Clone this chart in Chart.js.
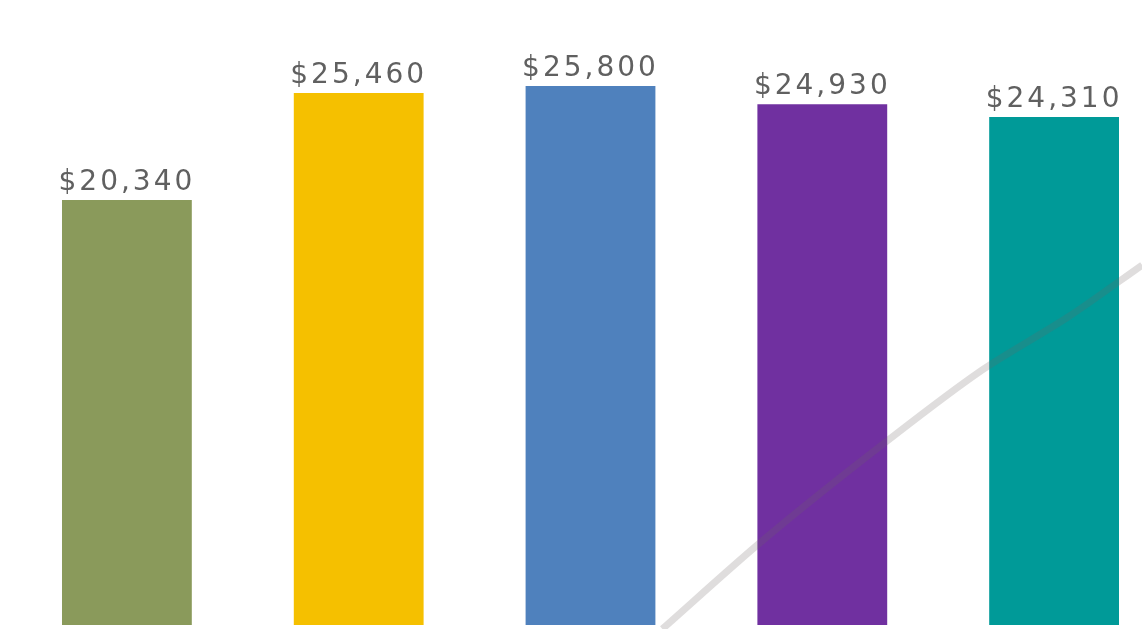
<!DOCTYPE html>
<html>
	<head>
		<meta charset="utf-8">
		<style>
			html, body { margin: 0; padding: 0; background: #fff; overflow: hidden; }
			#wrap { width: 1180px; height: 629px; }
		</style>
	</head>
	<body>
		<div id="wrap"><canvas id="myChart"></canvas></div>
		<script src="https://cdn.jsdelivr.net/npm/chart.js@4/dist/chart.umd.min.js"></script>
		<script>
			// bar values
			const categories = ['A', 'B', 'C', 'D', 'E'];
			const values = [20340, 25460, 25800, 24930, 24310];
			const colors = ['#8a9a5b', '#f5c000', '#4f81bd', '#7030a0', '#009a98'];

			// grey stroke crossing the right side (x in category units)
			const strokeX = [2.31, 2.73, 3.19, 3.67, 4.06, 4.38];
			const strokeY = [-190, 3925, 8040, 12060, 14740, 17230];

			const fmt = v => '$' + v.toLocaleString('en-US');

			const valueLabels = {
				id: 'valueLabels',
				afterDatasetsDraw(chart) {
					const ctx = chart.ctx;
					const meta = chart.getDatasetMeta(0);
					ctx.save();
					ctx.font = '28px "DejaVu Sans"';
					ctx.letterSpacing = '3px';
					ctx.fillStyle = '#606060';
					ctx.textAlign = 'center';
					ctx.textBaseline = 'alphabetic';
					meta.data.forEach((bar, i) => {
						ctx.fillText(fmt(values[i]), bar.x, bar.y - 10);
					});
					ctx.restore();
				}
			};

			new Chart(document.getElementById('myChart'), {
				type: 'bar',
				data: {
					labels: categories,
					datasets: [
						{
							type: 'bar',
							data: values,
							backgroundColor: colors,
							barPercentage: 0.56,
							categoryPercentage: 1,
							grouped: false,
							order: 1
						},
						{
							type: 'line',
							data: strokeX.map((x, i) => ({ x: x, y: strokeY[i] })),
							xAxisID: 'xl',
							borderColor: 'rgba(110, 100, 100, 0.22)',
							borderWidth: 7,
							pointRadius: 0,
							tension: 0.3,
							clip: false,
							order: 0
						}
					]
				},
				options: {
					responsive: true,
					maintainAspectRatio: false,
					animation: false,
					layout: { padding: { left: 11, right: 10, top: 40, bottom: 4 } },
					plugins: {
						legend: { display: false },
						tooltip: { enabled: false }
					},
					scales: {
						x: { display: false, offset: true },
						xl: { type: 'linear', display: false, offset: false, min: -0.5, max: 4.5 },
						y: { display: false, min: 0, max: 28000 }
					}
				},
				plugins: [valueLabels]
			});
		</script>
	</body>
</html>
